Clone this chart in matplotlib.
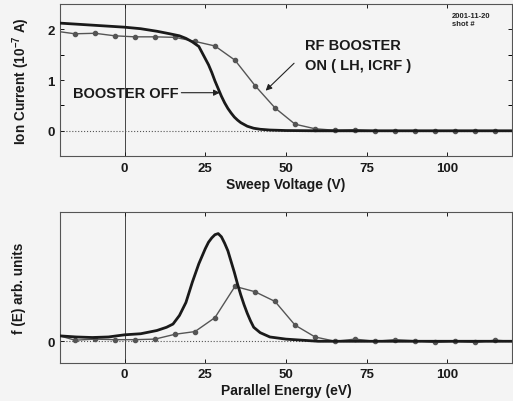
import matplotlib.pyplot as plt

plt.rcParams['font.family'] = ['Liberation Sans', 'DejaVu Sans']
plt.rcParams['font.weight'] = 'bold'
plt.rcParams['axes.labelweight'] = 'bold'
plt.rcParams['mathtext.fontset'] = 'custom'
plt.rcParams['mathtext.rm'] = 'Liberation Sans:bold'
plt.rcParams['mathtext.it'] = 'Liberation Sans:bold'

# sweep positions of the probe points (RF booster on)
x_on = [-20, -15.4, -9.2, -3.0, 3.2, 9.4, 15.6, 21.8, 28.0, 34.2, 40.4, 46.6, 52.8,
        59.0, 65.2, 71.4, 77.6, 83.8, 90.0, 96.2, 102.4, 108.6, 114.8, 120]
i_on = [1.95, 1.91, 1.92, 1.87, 1.85, 1.85, 1.84, 1.76, 1.67, 1.39, 0.89, 0.45, 0.13,
        0.04, 0.01, 0.02, 0.0, 0.0, -0.01, -0.01, 0.0, 0.0, 0.0, 0.0]
f_on = [0.05, 0.01, 0.02, 0.015, 0.015, 0.02, 0.065, 0.09, 0.22, 0.51, 0.46, 0.37, 0.15,
        0.04, 0.0, 0.02, 0.0, 0.015, 0.005, -0.01, 0.0, -0.01, 0.01, 0.0]

# booster off (smooth fit)
x_off = [-20, -10, 0, 5, 10, 14, 17, 19, 21, 23, 25, 26, 27, 28, 29, 30, 31, 32, 33,
         34, 35, 36, 38, 40, 42, 45, 50, 60, 80, 100, 120]
i_off = [2.12, 2.08, 2.04, 2.01, 1.96, 1.91, 1.87, 1.82, 1.75, 1.66, 1.42, 1.30, 1.15,
         0.98, 0.83, 0.68, 0.55, 0.44, 0.35, 0.27, 0.21, 0.16, 0.09, 0.05, 0.03, 0.015,
         0.005, 0.0, 0.0, 0.0, 0.0]

e_off = [-20, -15, -10, -5, 0, 5, 10, 13, 15, 17, 19, 21, 23, 25, 26, 27, 28, 29, 30, 31,
         32, 33, 34, 35, 36, 37, 38, 39, 40, 42, 45, 50, 55, 60, 80, 100, 120]
f_off = [0.05, 0.04, 0.035, 0.04, 0.06, 0.07, 0.10, 0.13, 0.16, 0.24, 0.36, 0.55, 0.72,
         0.86, 0.92, 0.96, 0.99, 1.0, 0.97, 0.91, 0.84, 0.74, 0.64, 0.53, 0.43, 0.34,
         0.26, 0.19, 0.13, 0.08, 0.04, 0.02, 0.01, 0.0, 0.0, 0.0, 0.0]

xticks = [0, 25, 50, 75, 100]

bg = '#f4f4f4'
ink = '#1a1a1a'
fig = plt.figure(figsize=(5.13, 4.02), dpi=100, facecolor=bg)
ax1 = fig.add_axes([0.117, 0.609, 0.881, 0.379])
ax2 = fig.add_axes([0.117, 0.095, 0.881, 0.375])

for ax in (ax1, ax2):
    ax.set_facecolor(bg)
    ax.set_xlim(-20, 120)
    ax.set_xticks(xticks)
    ax.axvline(0, color='#444444', lw=0.7, zorder=1)
    ax.axhline(0, color='#555555', lw=0.8, ls=':', zorder=1)
    ax.tick_params(direction='in', top=True, right=True, length=3, width=0.7,
                   labelsize=9.5, colors=ink, pad=4)
    for s in ax.spines.values():
        s.set_color('#555555')
        s.set_linewidth(0.8)

# top panel: ion current
ax1.plot(x_on, i_on, color='#555555', lw=1.0, marker='o', ms=3,
         markevery=slice(1, -1), zorder=3)
ax1.plot(x_off, i_off, color=ink, lw=2.0, zorder=4)
ax1.set_ylim(-0.5, 2.5)
ax1.set_yticks([0, 1, 2])
ax1.set_yticks([0.5, 1.5], minor=True)
ax1.tick_params(which='minor', direction='in', right=True, length=3, width=0.7)
ax1.set_xlabel('Sweep Voltage (V)', fontsize=10, color=ink, labelpad=2)
ax1.set_ylabel('Ion Current (10$^{-7}$ A)', fontsize=9.8, color=ink, labelpad=11)

ax1.annotate('BOOSTER OFF', xy=(29.5, 0.75), xytext=(-16, 0.75),
             fontsize=10.5, color=ink, va='center', ha='left',
             arrowprops=dict(arrowstyle='-|>', color='#222222', lw=0.8,
                             mutation_scale=9, shrinkA=0, shrinkB=0,
                             relpos=(1.0, 0.5)))
ax1.text(56, 1.68, 'RF BOOSTER', fontsize=10.5, color=ink, va='center', ha='left')
ax1.text(56, 1.29, 'ON ( LH, ICRF )', fontsize=10.5, color=ink, va='center', ha='left')
ax1.annotate('', xy=(43.7, 0.79), xytext=(52.5, 1.33),
             arrowprops=dict(arrowstyle='-|>', color='#222222', lw=0.8,
                             mutation_scale=9, shrinkA=0, shrinkB=0))
ax1.text(101.5, 2.2, '2001-11-20\nshot #', fontsize=5.5, fontweight='bold',
         color='#222222', va='center', ha='left', linespacing=1.2)

# bottom panel: parallel energy distribution
ax2.plot(x_on, f_on, color='#555555', lw=1.0, marker='o', ms=3,
         markevery=slice(1, -1), zorder=3)
ax2.plot(e_off, f_off, color=ink, lw=2.0, zorder=4)
ax2.set_ylim(-0.2, 1.2)
ax2.set_yticks([0])
ax2.set_xlabel('Parallel Energy (eV)', fontsize=10, color=ink, labelpad=2)
ax2.set_ylabel('f (E) arb. units', fontsize=9.8, color=ink, labelpad=15)

fig.savefig('out.png', dpi=100, facecolor=bg)
